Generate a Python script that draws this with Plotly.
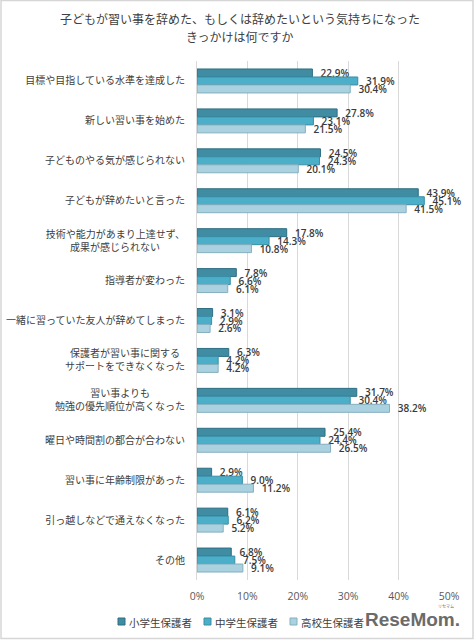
import plotly.graph_objects as go

categories = [
    "目標や目指している水準を達成した",
    "新しい習い事を始めた",
    "子どものやる気が感じられない",
    "子どもが辞めたいと言った",
    "技術や能力があまり上達せず、<br>成果が感じられない",
    "指導者が変わった",
    "一緒に習っていた友人が辞めてしまった",
    "保護者が習い事に関する<br>サポートをできなくなった",
    "習い事よりも<br>勉強の優先順位が高くなった",
    "曜日や時間割の都合が合わない",
    "習い事に年齢制限があった",
    "引っ越しなどで通えなくなった",
    "その他",
]
series_names = ["小学生保護者", "中学生保護者", "高校生保護者"]
elementary = [22.9, 27.8, 24.5, 43.9, 17.8, 7.8, 3.1, 6.3, 31.7, 25.4, 2.9, 6.1, 6.8]
junior_high = [31.9, 23.1, 24.3, 45.1, 14.3, 6.6, 2.9, 4.2, 30.4, 24.4, 9.0, 6.2, 7.5]
high_school = [30.4, 21.5, 20.1, 41.5, 10.8, 6.1, 2.6, 4.2, 38.2, 26.5, 11.2, 5.2, 9.1]
tick_values = [0, 10, 20, 30, 40, 50]
tick_labels = ["0%", "10%", "20%", "30%", "40%", "50%"]
title_lines = ["子どもが習い事を辞めた、もしくは辞めたいという気持ちになった", "きっかけは何ですか"]

# centre the shorter line of two-line labels (as in the reference)
def centre_label(lbl):
    if "<br>" not in lbl:
        return lbl
    a, b = lbl.split("<br>")
    diff = len(a) - len(b)
    if diff > 0:
        b = b + "\u3000" * (diff // 2) + ("\u2002" if diff % 2 else "")
    elif diff < 0:
        a = a + "\u3000" * ((-diff) // 2) + ("\u2002" if (-diff) % 2 else "")
    return a + "<br>" + b

y_ticktext = [centre_label(c) for c in categories]

colors = ["#3f8ca3", "#4bafc9", "#a9d1df"]
line_colors = ["#2f6f82", "#3a8ea5", "#86afbe"]

W, H = 475, 640
L, R, T, B = 197, 26, 61, 60
pw = W - L - R
ph = H - T - B

def px_x(p):
    return (p - L) / pw

def px_y(p):
    return (H - B - p) / ph

fig = go.Figure()
for name, vals, c, lc in zip(series_names, [elementary, junior_high, high_school], colors, line_colors):
    fig.add_trace(go.Bar(
        y=categories, x=vals, name=name, orientation="h",
        marker=dict(color=c, line=dict(color=lc, width=1)),
        text=["\u00a0\u00a0" + f"{v:.1f}%" for v in vals],
        textposition="outside",
        textfont=dict(size=10, color="#3a3a3a", family="Open Sans", weight=600),
        cliponaxis=False,
        constraintext="none",
        showlegend=False,
    ))

fig.update_layout(
    width=W, height=H,
    margin=dict(l=L, r=R, t=T, b=B, autoexpand=False),
    paper_bgcolor="white", plot_bgcolor="white",
    barmode="group", bargap=0.4, bargroupgap=0,
    font=dict(family="Noto Sans CJK JP", color="#404040", size=10),
    xaxis=dict(
        range=[0, 50], tickmode="array", tickvals=tick_values, ticktext=tick_labels,
        showgrid=True, gridcolor="#d9d9d9", gridwidth=1,
        zeroline=False, showline=False, automargin=False,
        tickfont=dict(size=10.5, color="#595959", family="Open Sans"),
        ticks="", ticklabelstandoff=8,
    ),
    yaxis=dict(
        autorange="reversed", showgrid=False, zeroline=False,
        showline=True, linecolor="#d9d9d9", linewidth=1, automargin=False,
        tickmode="array", tickvals=categories, ticktext=y_ticktext,
        ticks="", tickfont=dict(size=10, color="#404040", family="Noto Sans CJK JP"),
        ticklabelstandoff=9,
    ),
    showlegend=False,
)

# title (two lines)
for i, line in enumerate(title_lines):
    fig.add_annotation(
        text=line, xref="paper", yref="paper",
        x=px_x(240), y=px_y(19 + 17 * i), xanchor="center", yanchor="middle",
        showarrow=False, font=dict(size=12, color="#404040", family="Noto Sans CJK JP"),
    )

# legend drawn manually
legend_x = [118, 204, 290]
for name, c, lc, lx in zip(series_names, colors, line_colors, legend_x):
    fig.add_shape(
        type="rect", xref="paper", yref="paper",
        x0=px_x(lx), x1=px_x(lx + 7), y0=px_y(625), y1=px_y(618),
        fillcolor=c, line=dict(color=lc, width=1),
    )
    fig.add_annotation(
        text=name, xref="paper", yref="paper",
        x=px_x(lx + 9), y=px_y(622), xanchor="left", yanchor="middle",
        showarrow=False, font=dict(size=10.5, color="#404040", family="Noto Sans CJK JP"),
    )

fig.add_annotation(
    text="<b>ReseMom.</b>", xref="paper", yref="paper",
    x=px_x(412), y=px_y(619), xanchor="center", yanchor="middle",
    showarrow=False, font=dict(size=19, color="#6b6b6b", family="Liberation Sans"),
)
fig.add_annotation(
    text="リセマム", xref="paper", yref="paper",
    x=px_x(446), y=px_y(606), xanchor="center", yanchor="middle",
    showarrow=False, font=dict(size=4, color="#6b6b6b", family="Noto Sans CJK JP"),
)

fig.add_shape(
    type="rect", xref="paper", yref="paper",
    x0=px_x(1), x1=px_x(473), y0=px_y(638.5), y1=px_y(0.5),
    line=dict(color="#d6d6d6", width=1.5), fillcolor="rgba(0,0,0,0)", layer="below",
)

fig.write_html("out.html", config={"displayModeBar": False},
               post_script="document.body.style.margin='0';")
